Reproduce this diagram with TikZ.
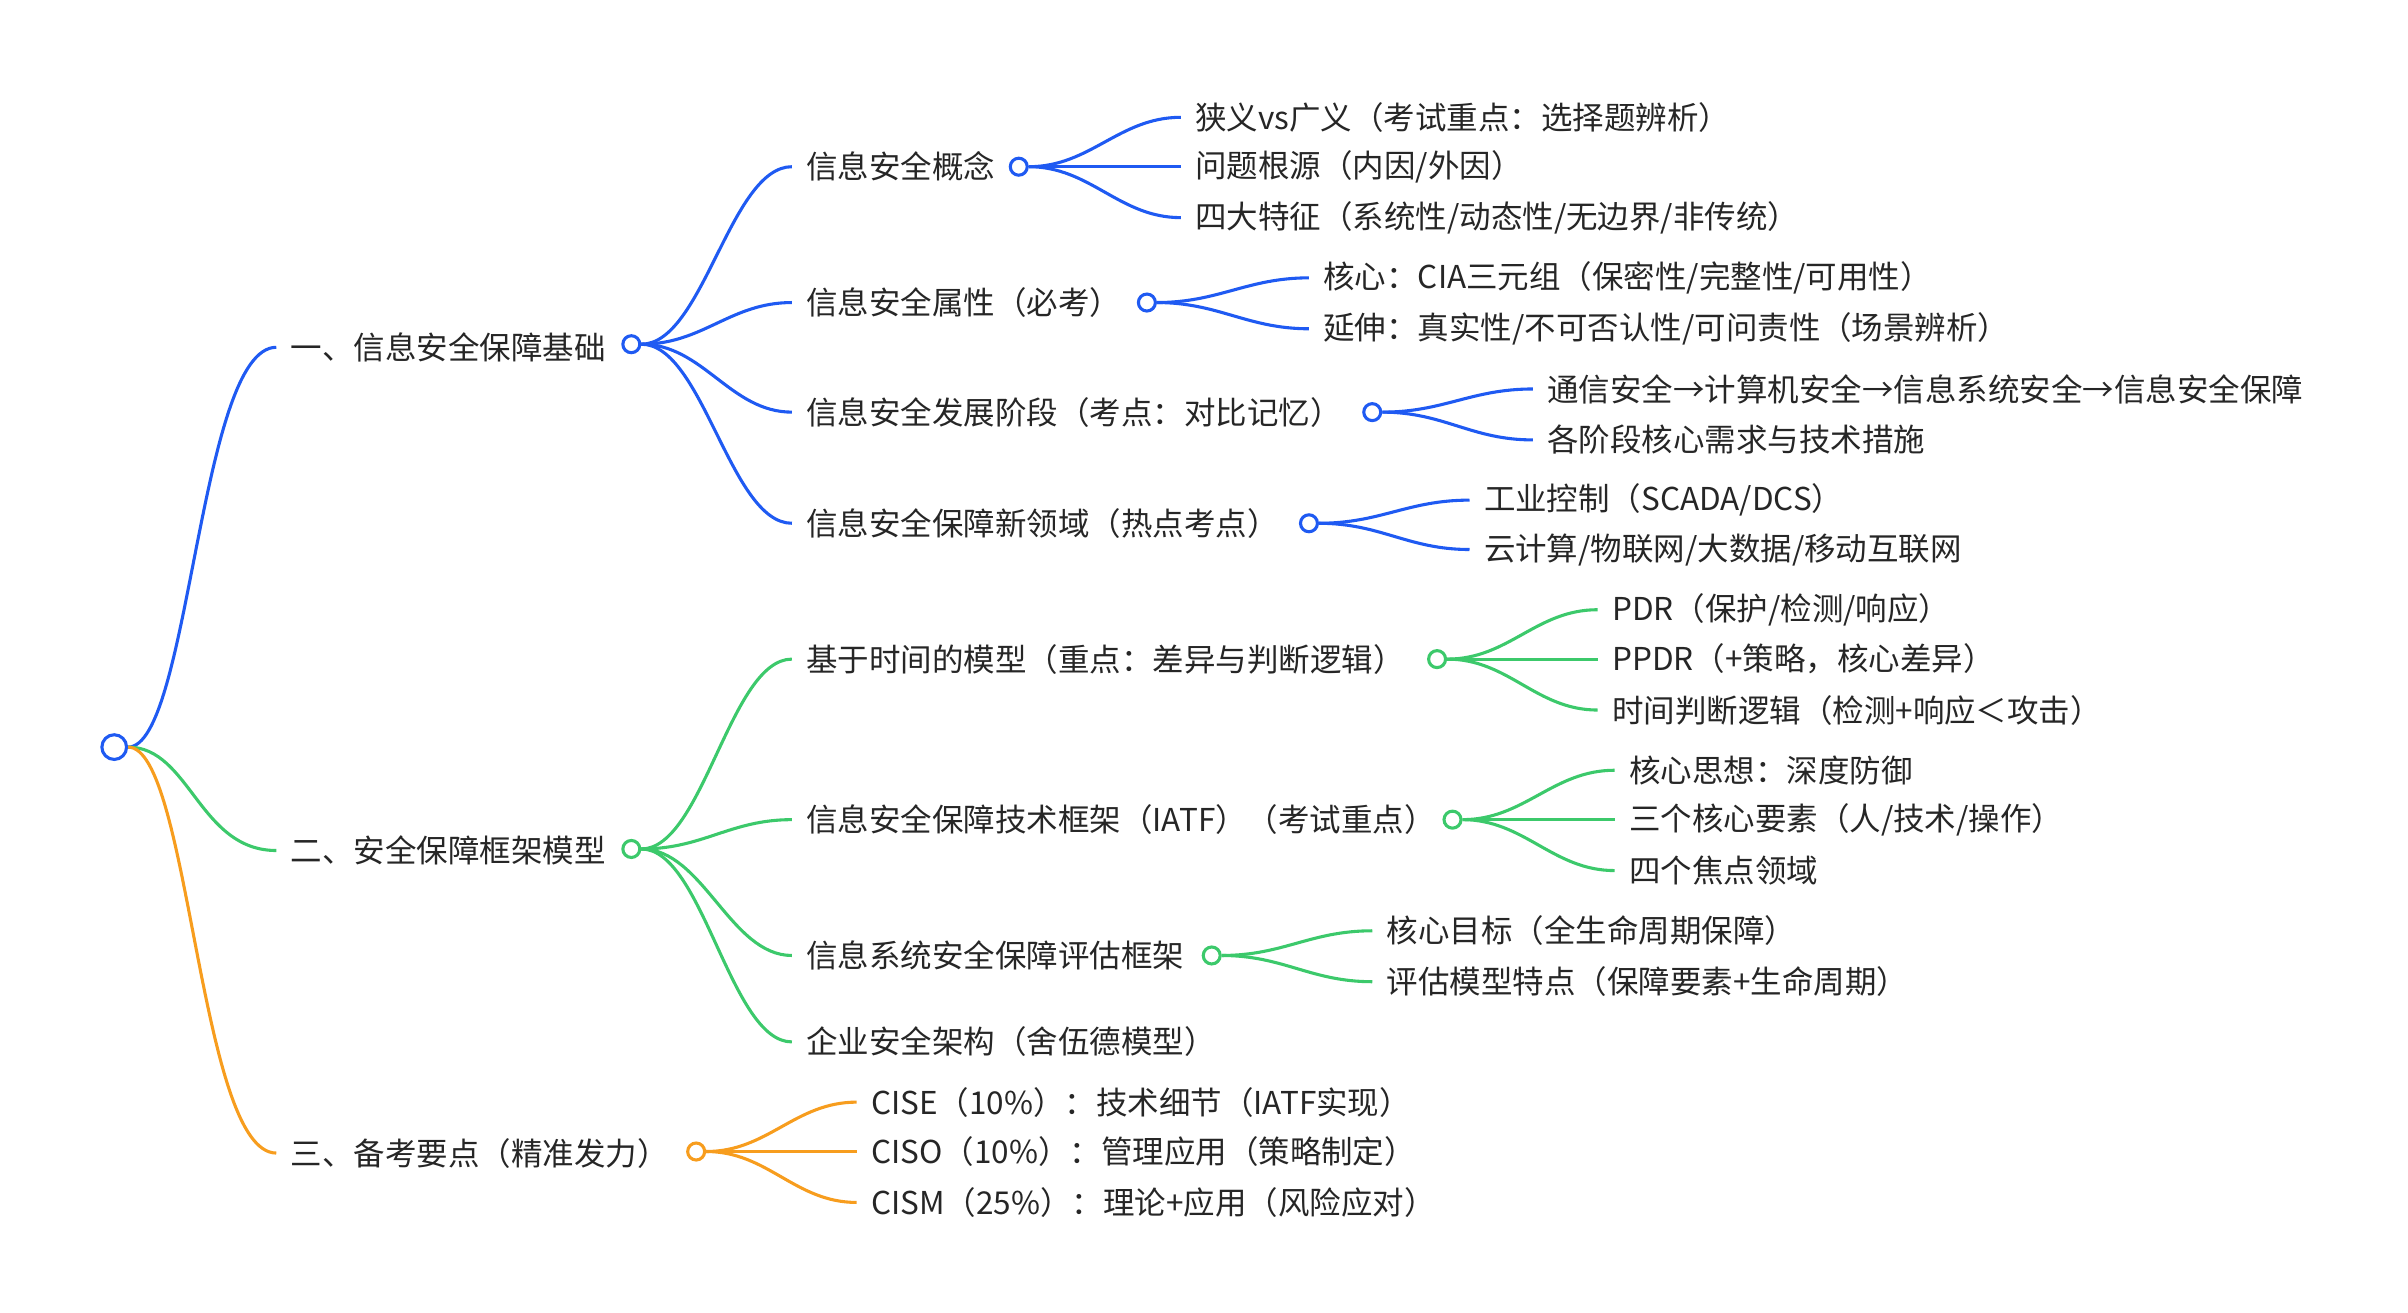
\documentclass[tikz,border=0pt]{standalone}
\usepackage{fontspec}
\setmainfont{Noto Sans CJK SC}
\definecolor{cb}{HTML}{1F5AF2}
\definecolor{cg}{HTML}{3CC96B}
\definecolor{co}{HTML}{F79D1E}
\begin{document}
\begin{tikzpicture}[x=0.5pt,y=-0.5pt,
  lbl/.style={anchor=west,inner xsep=4.5pt,inner ysep=0pt,font=\fontsize{10.2}{12}\selectfont,text=black!85},
  dot/.style={circle,draw=#1,fill=white,line width=1pt,inner sep=0pt,minimum size=5.5pt},
  ln/.style={draw=#1,line width=1pt}]
\useasboundingbox (0,0) rectangle (1560,850);
\node[dot=cb,minimum size=8pt] (root) at (74,484) {};
% level 1
\node[lbl] (a) at (179,225) {一、信息安全保障基础};
\node[dot=cb] (ac) at (409,223) {};
\node[lbl] (b) at (179,551) {二、安全保障框架模型};
\node[dot=cg] (bc) at (409,550) {};
\node[lbl] (c) at (179,747) {三、备考要点（精准发力）};
\node[dot=co] (cc) at (451,746) {};
\draw[ln=cb] (root.east) .. controls +(40,0) and +(-50,0) .. (a.west);
\draw[ln=cg] (root.east) .. controls +(40,0) and +(-50,0) .. (b.west);
\draw[ln=co] (root.east) .. controls +(40,0) and +(-50,0) .. (c.west);
% blue level 2
\foreach \n/\y/\t/\cx in {a1/108/{信息安全概念}/660, a2/196/{信息安全属性（必考）}/743, a3/267/{信息安全发展阶段（考点：对比记忆）}/889, a4/339/{信息安全保障新领域（热点考点）}/848}{
  \node[lbl] (\n) at (513,\y) {\t};
  \node[dot=cb] (\n c) at (\cx,\y) {};
  \draw[ln=cb] (ac.east) .. controls +(40,0) and +(-40,0) .. (\n.west);
}
\foreach \p/\x/\y/\t in {a1/765/76/{狭义vs广义（考试重点：选择题辨析）}, a1/765/108/{问题根源（内因/外因）}, a1/765/141/{四大特征（系统性/动态性/无边界/非传统）}, a2/848/180/{核心：CIA三元组（保密性/完整性/可用性）}, a2/848/213/{延伸：真实性/不可否认性/可问责性（场景辨析）}, a3/993/252/{通信安全→计算机安全→信息系统安全→信息安全保障}, a3/993/285/{各阶段核心需求与技术措施}, a4/952/324/{工业控制（SCADA/DCS）}, a4/952/356/{云计算/物联网/大数据/移动互联网}}{
  \node[lbl] (t\x\y) at (\x,\y) {\t};
  \draw[ln=cb] (\p c.east) .. controls +(40,0) and +(-40,0) .. (t\x\y.west);
}
% green level 2
\foreach \n/\y/\t/\cx in {b1/427/{基于时间的模型（重点：差异与判断逻辑）}/931, b2/531/{信息安全保障技术框架（IATF）（考试重点）}/941, b3/619/{信息系统安全保障评估框架}/785}{
  \node[lbl] (\n) at (513,\y) {\t};
  \node[dot=cg] (\n c) at (\cx,\y) {};
  \draw[ln=cg] (bc.east) .. controls +(40,0) and +(-40,0) .. (\n.west);
}
\node[lbl] (b4) at (513,675) {企业安全架构（舍伍德模型）};
\draw[ln=cg] (bc.east) .. controls +(40,0) and +(-40,0) .. (b4.west);
\foreach \p/\x/\y/\t in {b1/1035/395/{PDR（保护/检测/响应）}, b1/1035/427/{PPDR（+策略，核心差异）}, b1/1035/460/{时间判断逻辑（检测+响应＜攻击）}, b2/1046/499/{核心思想：深度防御}, b2/1046/531/{三个核心要素（人/技术/操作）}, b2/1046/564/{四个焦点领域}, b3/889/603/{核心目标（全生命周期保障）}, b3/889/636/{评估模型特点（保障要素+生命周期）}}{
  \node[lbl] (t\x\y) at (\x,\y) {\t};
  \draw[ln=cg] (\p c.east) .. controls +(40,0) and +(-40,0) .. (t\x\y.west);
}
% orange
\foreach \x/\y/\t in {555/714/{CISE（10\%）：技术细节（IATF实现）}, 555/746/{CISO（10\%）：管理应用（策略制定）}, 555/779/{CISM（25\%）：理论+应用（风险应对）}}{
  \node[lbl] (t\x\y) at (\x,\y) {\t};
  \draw[ln=co] (cc.east) .. controls +(40,0) and +(-40,0) .. (t\x\y.west);
}
\end{tikzpicture}
\end{document}
